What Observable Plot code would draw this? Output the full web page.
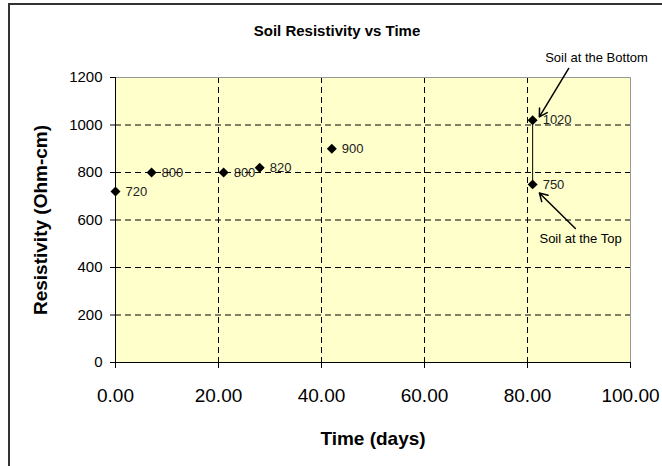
<!DOCTYPE html>
<html>
<head>
<meta charset="utf-8">
<script src="https://cdn.jsdelivr.net/npm/d3@7"></script>
<script src="https://cdn.jsdelivr.net/npm/@observablehq/plot@0.6"></script>
<style>
  html, body { margin: 0; padding: 0; background: #fff; }
  #wrap { position: relative; width: 662px; height: 466px; overflow: hidden; }
  #border { position: absolute; left: 8px; top: 3px; width: 700px; height: 500px;
            border-left: 2px solid #333; border-top: 2px solid #333; box-sizing: border-box; }
  #chart { position: absolute; left: 0; top: 0; }
</style>
</head>
<body>
<div id="wrap"><div id="border"></div><div id="chart"></div></div>
<script>
// ---- data ----
const days = [0, 7, 21, 28, 42, 81, 81];
const resistivity = [720, 800, 800, 820, 900, 1020, 750];
const pointLabels = ["720", "800", "800", "820", "900", "1020", "750"];

const connectorDays = [81, 81];
const connectorValues = [1020, 750];

const xTicks = [0, 20, 40, 60, 80, 100];
const yTicks = [0, 200, 400, 600, 800, 1000, 1200];
const xGrid = [20, 40, 60, 80];
const yGrid = [200, 400, 600, 800, 1000];

const noteTexts = ["Soil at the Bottom", "Soil at the Top"];
const noteX = [93.4, 90.3];
const noteY = [1284, 522];

const arrowX1 = [88.0, 89.3];
const arrowY1 = [1238, 564];
const arrowX2 = [82.3, 82.3];
const arrowY2 = [1034, 714];

const title = "Soil Resistivity vs Time";
const xTitle = "Time (days)";
const yTitle = "Resistivity (Ohm-cm)";

// ---- tables ----
const points = days.map((d, i) => ({day: d, value: resistivity[i], label: pointLabels[i]}));
const connector = connectorDays.map((d, i) => ({day: d, value: connectorValues[i]}));
const notes = noteTexts.map((t, i) => ({text: t, x: noteX[i], y: noteY[i]}));
const arrows = arrowX1.map((x, i) => ({x1: x, y1: arrowY1[i], x2: arrowX2[i], y2: arrowY2[i]}));

const font = "'Liberation Sans', Arial, sans-serif";

const chart = Plot.plot({
  width: 662,
  height: 466,
  marginLeft: 115,
  marginRight: 32,
  marginTop: 77,
  marginBottom: 104,
  style: {fontFamily: font, background: "transparent", overflow: "visible", color: "#000"},
  x: {domain: [0, 100]},
  y: {domain: [0, 1200]},
  marks: [
    Plot.frame({fill: "#FFFFCC", stroke: null}),
    Plot.gridY(yGrid, {stroke: "#000", strokeOpacity: 1, strokeDasharray: "6,4"}),
    Plot.gridX(xGrid, {stroke: "#000", strokeOpacity: 1, strokeDasharray: "6,4"}),
    Plot.ruleY([1200], {stroke: "#999"}),
    Plot.ruleX([100], {stroke: "#999"}),
    Plot.ruleY([0], {stroke: "#000"}),
    Plot.ruleX([0], {stroke: "#000"}),
    Plot.axisY(yTicks, {tickSize: 5, tickPadding: 8, fontSize: 15, label: null, stroke: "#000",
      tickFormat: d => String(d)}),
    Plot.axisX(xTicks, {tickSize: 6, tickPadding: 20, fontSize: 19, label: null, stroke: "#000",
      tickFormat: d => d.toFixed(2)}),
    Plot.text([xTitle], {frameAnchor: "bottom", dy: 76, lineAnchor: "middle", textAnchor: "middle",
      fontSize: 19, fontWeight: "bold"}),
    Plot.text([yTitle], {frameAnchor: "left", dx: -75, rotate: -90, textAnchor: "middle",
      lineAnchor: "middle", fontSize: 19, fontWeight: "bold"}),
    Plot.text([title], {frameAnchor: "top", dx: -36, dy: -46, lineAnchor: "middle", textAnchor: "middle",
      fontSize: 15, fontWeight: "bold"}),
    Plot.line(connector, {x: "day", y: "value", stroke: "#000", strokeWidth: 1}),
    Plot.dot(points, {x: "day", y: "value", symbol: "diamond2", r: 4.5, fill: "#000", stroke: null}),
    Plot.text(points, {x: "day", y: "value", text: "label", dx: 10, textAnchor: "start",
      fontSize: 13, fill: "#222"}),
    Plot.arrow(arrows, {x1: "x1", y1: "y1", x2: "x2", y2: "y2", stroke: "#000",
      strokeWidth: 1.5, headLength: 9}),
    Plot.text(notes, {x: "x", y: "y", text: "text", fontSize: 13, fill: "#000"})
  ]
});
document.getElementById("chart").appendChild(chart);
</script>
</body>
</html>
